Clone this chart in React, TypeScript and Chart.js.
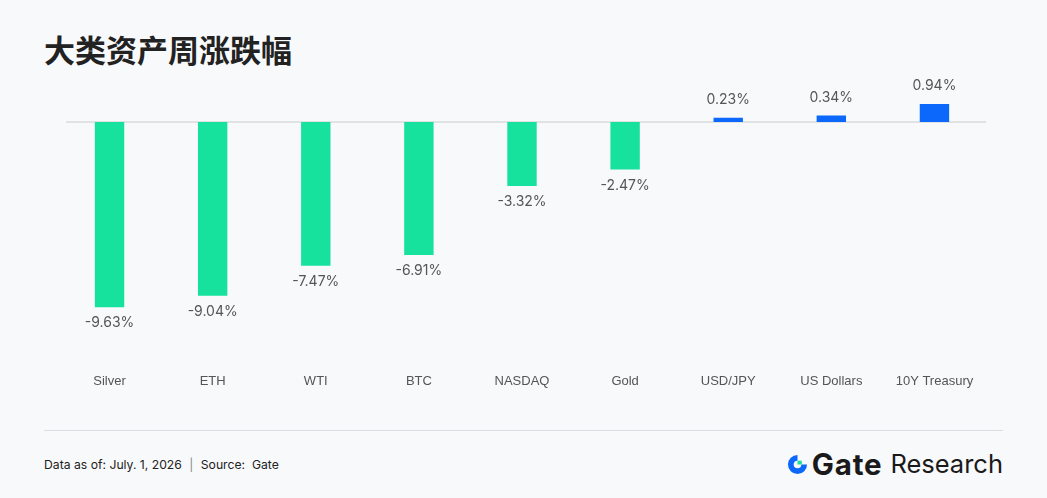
import React, { useEffect, useRef } from "react";
import { Chart, registerables } from "chart.js";

Chart.register(...registerables);

const categories = ["Silver", "ETH", "WTI", "BTC", "NASDAQ", "Gold", "USD/JPY", "US Dollars", "10Y Treasury"];
const weeklyChange = [-9.63, -9.04, -7.47, -6.91, -3.32, -2.47, 0.23, 0.34, 0.94];
const valueLabels = ["-9.63%", "-9.04%", "-7.47%", "-6.91%", "-3.32%", "-2.47%", "0.23%", "0.34%", "0.94%"];

const GREEN = "#16e29e";
const BLUE = "#0b68fb";
const BG = "#f8f9fb";

const zeroLinePlugin = {
  id: "zeroLine",
  beforeDatasetsDraw(chart: any) {
    const ctx = chart.ctx;
    const y = chart.scales.y.getPixelForValue(0);
    const { left, right } = chart.chartArea;
    ctx.save();
    ctx.strokeStyle = "#d9dadd";
    ctx.lineWidth = 1.5;
    ctx.beginPath();
    ctx.moveTo(left + 8, y);
    ctx.lineTo(right, y);
    ctx.stroke();
    ctx.restore();
  },
};

const labelPlugin = {
  id: "valueLabels",
  afterDatasetsDraw(chart: any) {
    const ctx = chart.ctx;
    const meta = chart.getDatasetMeta(0);
    ctx.save();
    ctx.font = "14px Inter, 'Liberation Sans', sans-serif";
    ctx.fillStyle = "#555555";
    ctx.textAlign = "center";
    ctx.textBaseline = "middle";
    meta.data.forEach((el: any, i: number) => {
      const v = weeklyChange[i];
      const y = v < 0 ? el.y + 16 : el.y - 18;
      ctx.fillText(valueLabels[i], el.x, y);
    });
    ctx.restore();
  },
};

function GateLogo() {
  return (
    <svg width="21" height="21" viewBox="0 0 22 22" style={{ display: "block" }}>
      <path d="M11 1 A10 10 0 1 0 21 11 L15 11 A4 4 0 1 1 11 7 Z" fill={BLUE} />
      <rect x="11" y="7" width="4.5" height="4" fill={GREEN} />
    </svg>
  );
}

export default function App() {
  const ref = useRef<HTMLCanvasElement | null>(null);
  useEffect(() => {
    document.body.style.margin = "0";
    document.body.style.background = BG;
    if (!ref.current) return;
    const chart = new Chart(ref.current, {
      type: "bar",
      data: {
        labels: categories,
        datasets: [
          {
            data: weeklyChange,
            backgroundColor: weeklyChange.map((v) => (v < 0 ? GREEN : BLUE)),
            barPercentage: 0.57,
            categoryPercentage: 0.5,
            borderWidth: 0,
          },
        ],
      },
      options: {
        animation: false,
        responsive: false,
        maintainAspectRatio: false,
        layout: { padding: { left: 58, right: 61, top: 83.6, bottom: 21 } },
        plugins: { legend: { display: false }, tooltip: { enabled: false } },
        scales: {
          x: {
            grid: { display: false },
            border: { display: false },
            ticks: {
              color: "#555555",
              padding: 3,
              font: { size: 13, family: "'Liberation Sans', Arial, sans-serif" },
              maxRotation: 0,
              autoSkip: false,
            },
          },
          y: {
            min: -12.5,
            max: 2,
            border: { display: false },
            ticks: { display: false, stepSize: 0.5 },
            grid: { display: false, drawTicks: false },
          },
        },
      },
      plugins: [zeroLinePlugin, labelPlugin],
    });
    return () => chart.destroy();
  }, []);

  return (
    <div style={{ position: "relative", width: 1047, height: 498, background: BG, overflow: "hidden" }}>
      <div
        style={{
          position: "absolute",
          left: 44,
          top: 28,
          fontFamily: "'Noto Sans CJK SC', sans-serif",
          fontWeight: 700,
          fontSize: 31,
          lineHeight: "42px",
          color: "#222222",
        }}
      >
        大类资产周涨跌幅
      </div>
      <canvas ref={ref} width={1047} height={413} style={{ position: "absolute", left: 0, top: 0 }} />
      <div style={{ position: "absolute", left: 44, top: 430, width: 959, height: 1, background: "#dcdde0" }} />
      <div
        style={{
          position: "absolute",
          left: 44,
          top: 456,
          fontFamily: "Inter, sans-serif",
          fontSize: 12.2,
          lineHeight: "18px",
          color: "#222222",
          whiteSpace: "pre",
        }}
      >
        Data as of: July. 1, 2026 <span style={{ color: "#888", margin: "0 4px" }}>|</span> Source:  Gate
      </div>
      <div
        style={{
          position: "absolute",
          right: 44,
          top: 449,
          display: "flex",
          alignItems: "center",
          gap: 4,
          fontFamily: "Inter, sans-serif",
          color: "#1a1a1a",
          lineHeight: "30px",
        }}
      >
        <GateLogo />
        <span style={{ fontWeight: 700, fontSize: 29.5, letterSpacing: 0.8 }}>Gate</span>
        <span style={{ fontWeight: 400, fontSize: 25.5, marginLeft: 4 }}>Research</span>
      </div>
    </div>
  );
}
